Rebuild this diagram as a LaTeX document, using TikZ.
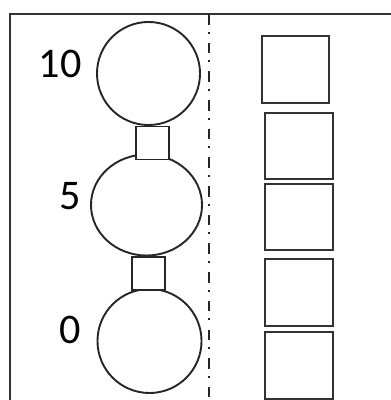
\documentclass[tikz,border=0pt]{standalone}
\usepackage{fontspec}
\setmainfont{Carlito}
\usepackage{tikz}
\usetikzlibrary{shapes.geometric}
\tikzset{
  ballnode/.style={circle,draw=black!85,line width=1.35pt,inner sep=0pt},
  linknode/.style={rectangle,draw=black!85,line width=1.35pt,minimum size=0.825cm,inner sep=0pt},
  boxnode/.style={rectangle,draw=black!80,line width=1.5pt,minimum width=1.7cm,minimum height=1.66cm,inner sep=0pt},
  valnode/.style={font=\fontsize{30}{34}\selectfont,inner sep=0pt},
  sepline/.style={black!85,line width=1.5pt,dash pattern=on 7.5pt off 5pt on 1.4pt off 6.5pt},
}

\begin{document}
\begin{tikzpicture}[x=0.025cm,y=-0.025cm]
  \useasboundingbox (0,0) rectangle (390,400);
  % frame, cut at the right and bottom
  \draw[black!80,line width=1.6pt] (10,410) -- (10,14) -- (400,14);
  \coordinate (sT) at (209,14);
  \coordinate (sB) at (209,400);
  \draw[sepline] (sT) -- (sB);
  % ball stack
  \node[ballnode,minimum size=2.575cm] (nTop) at (148.5,73.5) {};
  \node[ballnode,ellipse,minimum width=2.775cm,minimum height=2.525cm] (nMid) at (146.5,205) {};
  \node[ballnode,minimum size=2.6cm] (nLow) at (149.5,341) {};
  \node[linknode,fill=white] (kA) at (152.5,143) {};
  \node[linknode,fill=white] (kB) at (148.5,273.5) {};
  \node[valnode] (v10) at (60,63.5) {10};
  \node[valnode] (v5) at (70,196) {5};
  \node[valnode] (v0) at (70,330) {0};
  % boxes
  \node[boxnode,minimum width=1.68cm,minimum height=1.68cm] (b1) at (295.5,69.5) {};
  \node[boxnode] (b2) at (299,146) {};
  \node[boxnode] (b3) at (299,217) {};
  \node[boxnode] (b4) at (299,292.5) {};
  \node[boxnode] (b5) at (299,365.5) {};
\end{tikzpicture}
\end{document}
